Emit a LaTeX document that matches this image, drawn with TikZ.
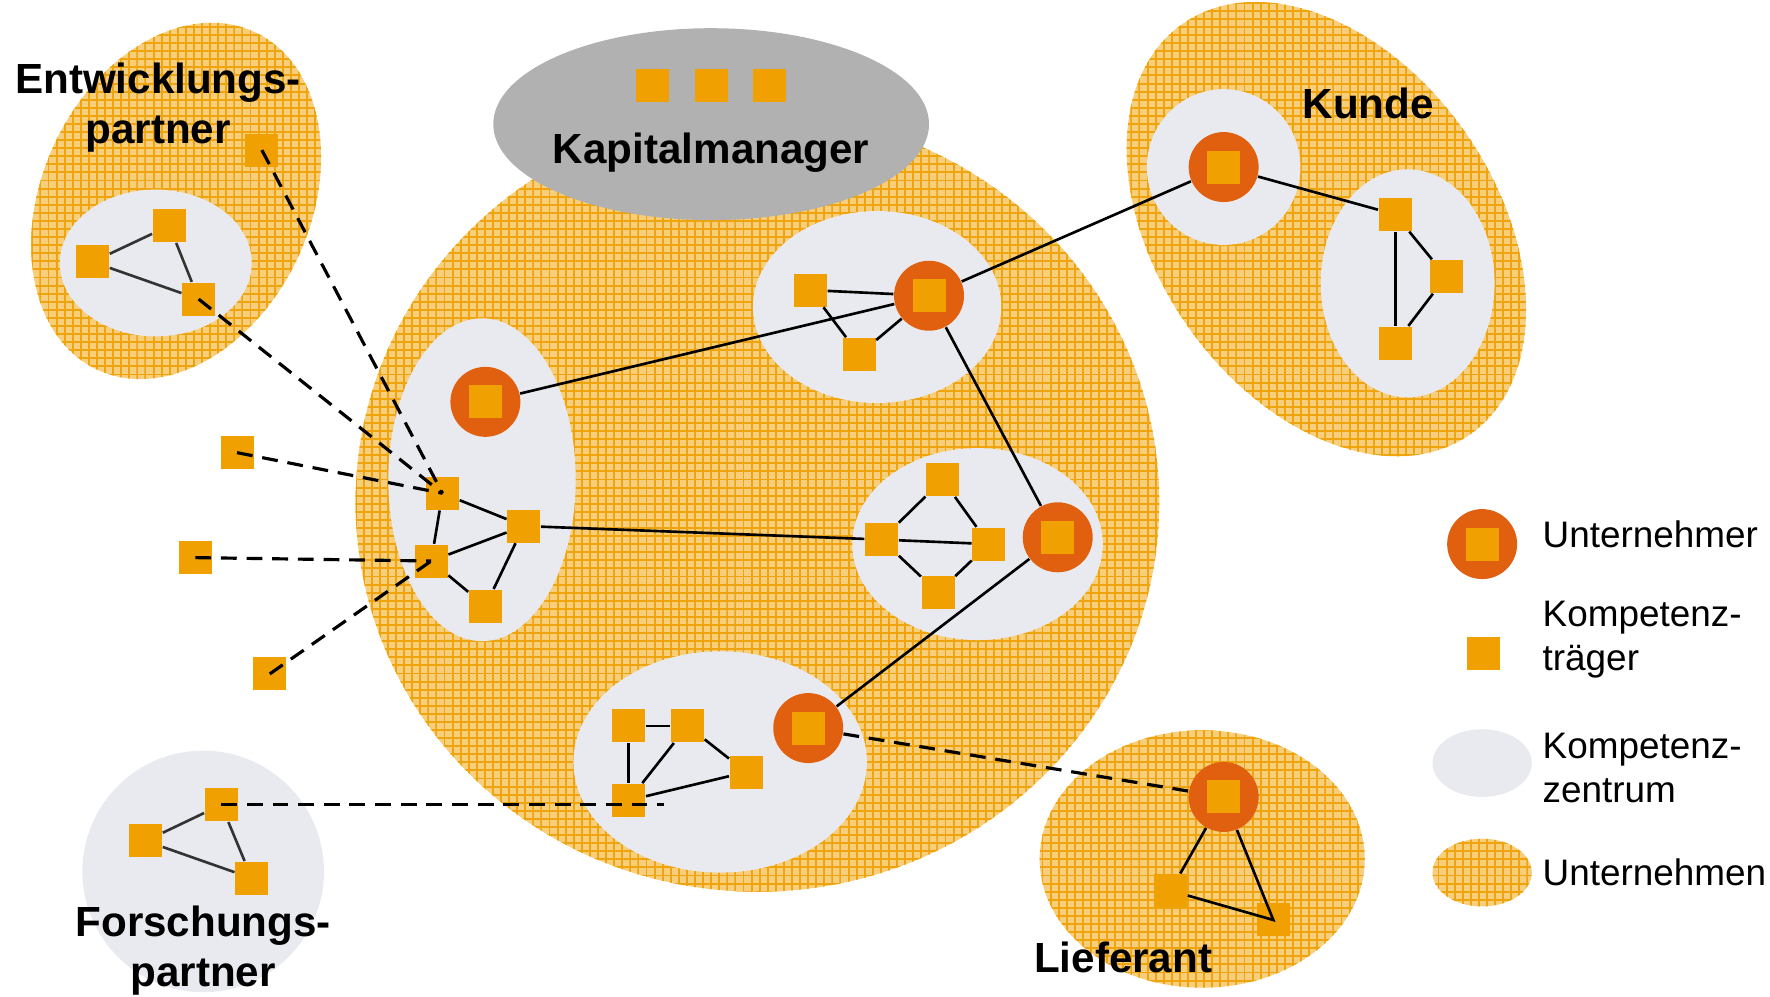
\documentclass[tikz,border=0pt]{standalone}
\usepackage{fontspec}
\setmainfont{Liberation Sans}
\usepackage{tikz}
\usetikzlibrary{patterns.meta}
\definecolor{ktorange}{HTML}{F0A000}
\definecolor{unred}{HTML}{E06010}
\definecolor{kzgray}{HTML}{E9EAEF}
\definecolor{kmgray}{HTML}{B1B1B1}
\definecolor{texbase}{HTML}{F7CE7C}
\definecolor{texline}{HTML}{EFA30C}
\tikzdeclarepattern{
  name=fgrid,
  type=uncolored,
  bounding box={(-0.3pt,-0.3pt) and (2.6pt,2.6pt)},
  tile size={(2.3pt,2.3pt)},
  code={\draw[line width=.55pt] (0pt,0pt) -- (2.3pt,0pt) (0pt,0pt) -- (0pt,2.3pt);}
}

\begin{document}
\begin{tikzpicture}[x=0.011288cm,y=-0.011288cm,
  kt/.style={fill=ktorange,inner sep=0pt,minimum size=3.3mm},
  un/.style={circle,fill=unred,inner sep=0pt,minimum size=7mm},
  kz/.style={fill=kzgray},
  ut/.style={fill=texbase,postaction={pattern=fgrid,pattern color=texline}},
  link/.style={black,line width=.75pt},
  weak/.style={black!80,line width=.75pt},
  ext/.style={black,line width=.9pt,dash pattern=on 4.5pt off 2.8pt},
  lbl/.style={font=\bfseries\fontsize{12}{14.2}\selectfont,align=center},
  leg/.style={font=\fontsize{10.5}{12.5}\selectfont,align=left,anchor=west,inner sep=0pt}]
  \useasboundingbox (0,0) rectangle (1568,883);
  % Unternehmen
  \fill[ut,rotate around={-25:(156,178)}] (156,178) ellipse [x radius=119,y radius=165];
  \fill[ut] (671,445) ellipse [x radius=356,y radius=345];
  \fill[ut,rotate around={35:(1175,203)}] (1175,203) ellipse [x radius=150,y radius=222];
  \fill[ut] (1065,761) ellipse [x radius=144,y radius=114];
  % Kapitalmanager
  \fill[kmgray] (630,110) ellipse [x radius=193,y radius=85];
  % Kompetenzzentren
  \fill[kz] (138,233) ellipse [x radius=85,y radius=65];
  \fill[kz] (180,772) circle [radius=107];
  \fill[kz] (427,425) ellipse [x radius=83,y radius=143];
  \fill[kz] (777,272) ellipse [x radius=110,y radius=85];
  \fill[kz] (866,482) ellipse [x radius=111,y radius=85];
  \fill[kz] (638,675) ellipse [x radius=130,y radius=98];
  \fill[kz] (1084,148) ellipse [x radius=68,y radius=69];
  \fill[kz] (1247,251) ellipse [x radius=77,y radius=101];

  \foreach \x/\n in {578/1,630/2,682/3}
    \node[kt] (km\n) at (\x,76) {};
  \node[lbl] (kmtext) at (630,135) {Kapitalmanager};

  % Unternehmer
  \foreach \n/\x/\y in {u1/430/356,u2/823/262,u3/937/476,u4/716/645,u5/1084/148,u6/1084/706}{%
    \node[un] (\n) at (\x,\y) {};
    \node[kt] (\n-s) at (\n) {};
  }
  % Kompetenztraeger
  \foreach \n/\x/\y in {e0/232/133,e1/82/232,e2/150/200,e3/176/265,
      l1/210/401,l2/173/494,l3/239/597,
      a1/392/437,a2/464/466,a3/382/497,a4/430/537,
      b1/718/257,b2/761/314,
      c1/835/425,c2/781/478,c3/876/482,c4/831/525,
      d1/557/643,d2/609/643,d3/661/684,d4/557/709,
      k1/1236/190,k2/1281/245,k3/1236/304,
      f1/1037/789,f2/1128/815,
      r1/196/713,r2/129/745,r3/223/778}
    \node[kt] (\n) at (\x,\y) {};
  \coordinate (rend) at (588,713);

  \foreach \a/\b in {a1/a2,a1/a3,a3/a2,a3/a4,a4/a2,a2/c2,u1/u2,
      b1/u2,b1/b2,b2/u2,u2/u5,u2/u3,
      c2/c1,c1/c3,c2/c3,c2/c4,c4/c3,u3/u4,
      d1/d2,d1/d4,d2/d4,d2/d3,d3/d4,
      u5/k1,k1/k2,k1/k3,k2/k3}
    \draw[link] (\a) -- (\b);
  \draw[link] (u6) -- (f1);
  \draw[link] (u6) -- (f2.center) -- (f1);
  \foreach \a/\b in {e1/e2,e2/e3,e1/e3,r1/r2,r1/r3,r2/r3}
    \draw[weak] (\a) -- (\b);
  \foreach \a/\b in {e3/a1,e0/a1,l1/a1,l2/a3,l3/a3}
    \draw[ext] (\a.center) -- (\b.center);
  \draw[ext] (r1.center) -- (rend);
  \draw[ext] (u4) -- (u6);

  \node[lbl] (entw) at (140,95) {Entwicklungs-\\partner};
  \node[lbl] (forsch) at (180,842) {Forschungs-\\partner};
  \node[lbl] (kunde) at (1212,92) {Kunde};
  \node[lbl] (lief) at (995,848) {Lieferant};

  % Legende
  \node[un] (legu) at (1313,482) {};
  \node[kt] (legus) at (legu) {};
  \node[kt] (legk) at (1314,579) {};
  \fill[kz] (1313,676) ellipse [x radius=44,y radius=30];
  \fill[ut] (1313,773) ellipse [x radius=44,y radius=30];
  \node[leg] (lgu) at (1366,473) {Unternehmer};
  \node[leg] (lgk) at (1366,567) {Kompetenz-\\träger};
  \node[leg] (lgz) at (1366,680) {Kompetenz-\\zentrum};
  \node[leg] (lgn) at (1366,773) {Unternehmen};
\end{tikzpicture}
\end{document}
